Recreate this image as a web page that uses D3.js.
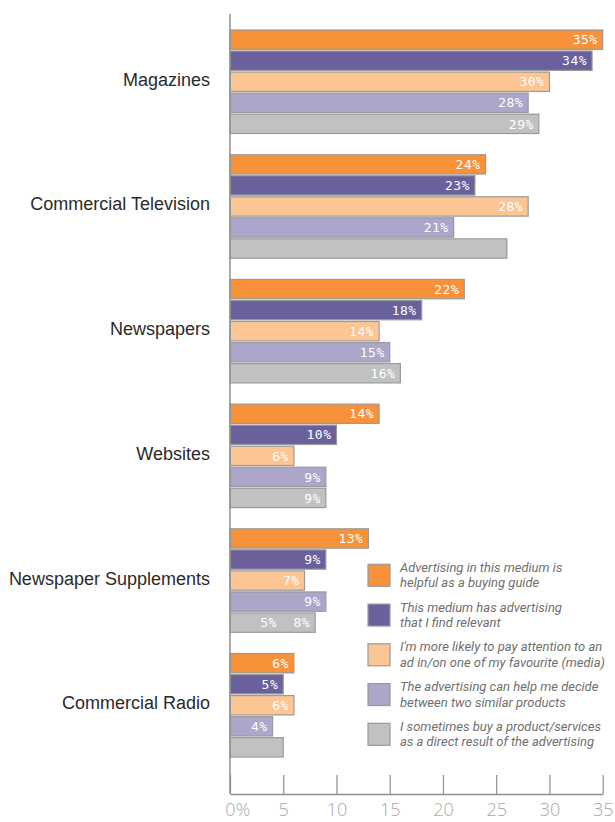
<!DOCTYPE html>
<html>
<head>
<meta charset="utf-8">
<script src="https://cdn.jsdelivr.net/npm/d3@7"></script>
<style>
  html, body { margin: 0; padding: 0; background: #fff; }
  svg { display: block; }
</style>
</head>
<body>
<div id="chart"></div>
<script>
// Media categories, top to bottom
const categories = ["Magazines", "Commercial Television", "Newspapers", "Websites", "Newspaper Supplements", "Commercial Radio"];

// Statements (legend), one series each
const seriesKeys = ["guide", "relevant", "favourite", "decide", "buy"];
const seriesLabels = [
  ["Advertising in this medium is", "helpful as a buying guide"],
  ["This medium has advertising", "that I find relevant"],
  ["I'm more likely to pay attention to an", "ad in/on one of my favourite (media)"],
  ["The advertising can help me decide", "between two similar products"],
  ["I sometimes buy a product/services", "as a direct result of the advertising"]
];
const seriesColors = ["#f7923a", "#6a609c", "#fcc594", "#aba6ca", "#c0c1c2"];

// Percent agreeing, per category
const guideValues     = [35, 24, 22, 14, 13, 6];
const relevantValues  = [34, 23, 18, 10, 9, 5];
const favouriteValues = [30, 28, 14, 6, 7, 6];
const decideValues    = [28, 21, 15, 9, 9, 4];
const buyValues       = [29, 26, 16, 9, 8, 5];
// Printed value labels for the last series (some bars carry none)
const buyLabels       = ["29%", "", "16%", "9%", "5%  8%", ""];

// Axis ticks
const tickValues = [0, 5, 10, 15, 20, 25, 30, 35];

const seriesValues = [guideValues, relevantValues, favouriteValues, decideValues, buyValues];
const rows = categories.map((c, ci) => ({
  category: c,
  bars: seriesKeys.map((k, si) => ({
    key: k,
    value: seriesValues[si][ci],
    color: seriesColors[si],
    label: si === 4 ? buyLabels[ci] : seriesValues[si][ci] + "%"
  }))
}));

const W = 615, H = 822;
const svg = d3.select("#chart").append("svg").attr("width", W).attr("height", H);

const x = d3.scaleLinear().domain([0, 35]).range([230, 602.7]);
const y0 = d3.scaleBand().domain(categories).range([30, 757]).paddingInner(0.17).paddingOuter(0);
const y1 = d3.scaleBand().domain(seriesKeys).range([0, y0.bandwidth()]).paddingInner(0.08);

const axisY = 794;

// Groups of bars
const groups = svg.append("g").selectAll("g.group")
  .data(rows).join("g")
  .attr("class", "group")
  .attr("transform", d => `translate(0,${y0(d.category)})`);

groups.selectAll("rect")
  .data(d => d.bars).join("rect")
  .attr("x", x(0))
  .attr("y", d => y1(d.key))
  .attr("width", d => x(d.value) - x(0))
  .attr("height", y1.bandwidth())
  .attr("fill", d => d.color)
  .attr("stroke", "#9a9a9a")
  .attr("stroke-width", 1.2);

groups.selectAll("text.val")
  .data(d => d.bars.filter(b => b.label)).join("text")
  .attr("class", "val")
  .attr("x", d => x(d.value) - 5)
  .attr("y", d => y1(d.key) + y1.bandwidth() / 2)
  .attr("dy", "0.36em")
  .attr("text-anchor", "end")
  .style("white-space", "pre")
  .attr("font-family", "'DejaVu Sans Mono', monospace")
  .attr("font-size", 13)
  .attr("letter-spacing", 0.5)
  .attr("fill", "#ffffff")
  .text(d => d.label);

// Category labels
svg.append("g").selectAll("text")
  .data(categories).join("text")
  .attr("x", 210)
  .attr("y", d => y0(d) + y0.bandwidth() / 2)
  .attr("dy", "0.22em")
  .attr("text-anchor", "end")
  .attr("font-family", "'Liberation Sans', Arial, sans-serif")
  .attr("font-size", 18)
  .attr("fill", "#2a2a2a")
  .text(d => d);

// Vertical baseline
svg.append("line")
  .attr("x1", x(0)).attr("x2", x(0))
  .attr("y1", 14).attr("y2", axisY)
  .attr("stroke", "#8f8f8f")
  .attr("stroke-width", 1.5);

// Bottom axis with ticks pointing up
const axis = d3.axisBottom(x)
  .tickValues(tickValues)
  .tickSizeInner(-19)
  .tickSizeOuter(0)
  .tickFormat(d3.format("d"));

const gAxis = svg.append("g")
  .attr("transform", `translate(0,${axisY})`)
  .call(axis);

gAxis.select(".domain").attr("stroke", "#8f8f8f").attr("stroke-width", 1.3);
gAxis.selectAll(".tick line").attr("stroke", "#8f8f8f").attr("stroke-width", 1.2);
gAxis.selectAll(".tick text")
  .attr("y", 22)
  .attr("dy", 0)
  .attr("font-family", "'Open Sans', sans-serif")
  .attr("font-weight", 300)
  .attr("font-size", 18)
  .attr("fill", "#a8a8a8");

// First tick: keep the digit centred on its tick and let the % sign follow it
gAxis.selectAll(".tick text").filter(d => d === 0).each(function () {
  const t = d3.select(this);
  t.append("tspan").text("%");
  const w0 = this.getSubStringLength(0, 1);
  t.attr("text-anchor", "start").attr("x", -w0 / 2);
});

// Legend
const legend = svg.append("g").selectAll("g")
  .data(seriesLabels).join("g")
  .attr("transform", (d, i) => `translate(368,${564.3 + i * 39.75})`);

legend.append("rect")
  .attr("width", 22).attr("height", 22)
  .attr("fill", (d, i) => seriesColors[i])
  .attr("stroke", "#9a9a9a")
  .attr("stroke-width", 1.2);

legend.append("text")
  .attr("font-family", "Roboto, 'Liberation Sans', sans-serif")
  .attr("font-style", "italic")
  .attr("font-size", 13)
  .attr("fill", "#6f6f6f")
  .selectAll("tspan")
  .data(d => d).join("tspan")
  .attr("x", 32)
  .attr("y", (d, i) => 7.5 + i * 15.6)
  .text(d => d);
</script>
</body>
</html>
